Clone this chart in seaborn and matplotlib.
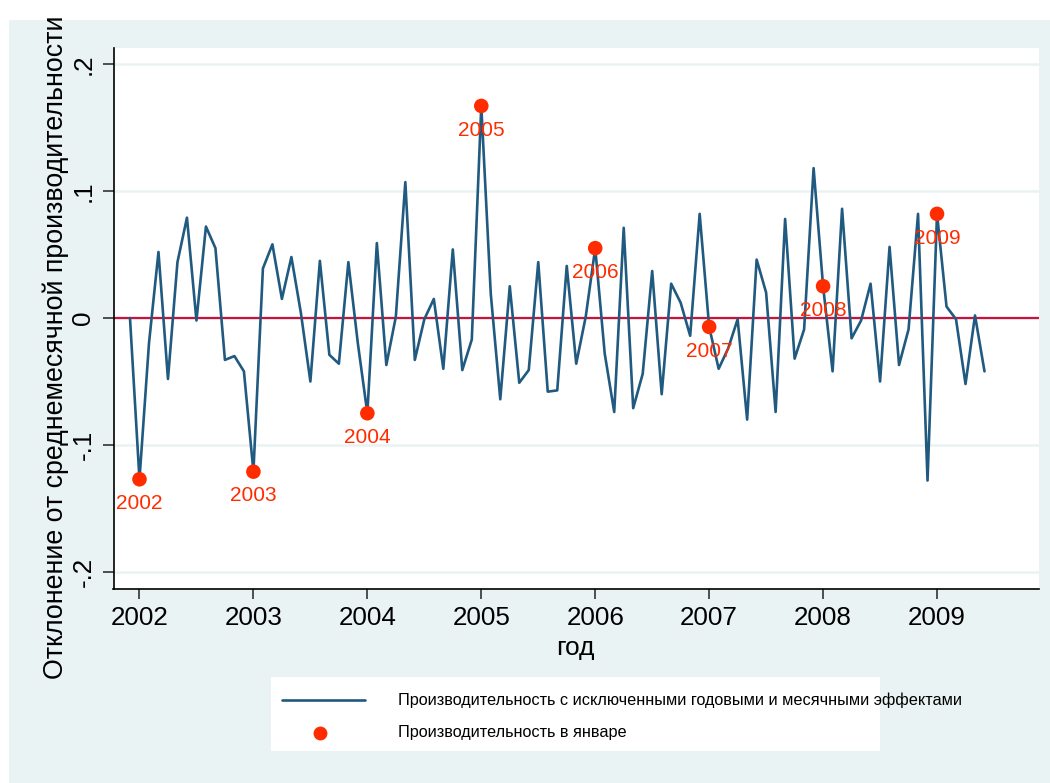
import numpy as np
import pandas as pd
import matplotlib
matplotlib.use("Agg")
import matplotlib.pyplot as plt
import seaborn as sns
from matplotlib.patches import Rectangle
from matplotlib.lines import Line2D

# monthly series, Dec 2001 .. Jun 2009
start_year = 2001
start_month = 12
values = [
    0.000,
    -0.127, -0.020, 0.052, -0.048, 0.044, 0.079, -0.002, 0.072, 0.055, -0.033, -0.030, -0.042,
    -0.121, 0.039, 0.058, 0.015, 0.048, 0.004, -0.050, 0.045, -0.029, -0.036, 0.044, -0.020,
    -0.075, 0.059, -0.037, 0.001, 0.107, -0.033, -0.001, 0.015, -0.040, 0.054, -0.041, -0.017,
    0.167, 0.019, -0.064, 0.025, -0.051, -0.041, 0.044, -0.058, -0.057, 0.041, -0.036, 0.001,
    0.055, -0.028, -0.074, 0.071, -0.071, -0.044, 0.037, -0.060, 0.027, 0.012, -0.014, 0.082,
    -0.007, -0.040, -0.024, -0.001, -0.080, 0.046, 0.020, -0.074, 0.078, -0.032, -0.009, 0.118,
    0.025, -0.042, 0.086, -0.016, -0.002, 0.027, -0.050, 0.056, -0.037, -0.009, 0.082, -0.128,
    0.082, 0.009, -0.001, -0.052, 0.002, -0.042,
]
year_ticks = [2002, 2003, 2004, 2005, 2006, 2007, 2008, 2009]
y_ticks = [-0.2, -0.1, 0, 0.1, 0.2]
y_tick_labels = ['-.2', '-.1', '0', '.1', '.2']

line_label = 'Производительность с исключенными годовыми и месячными эффектами'
dot_label = 'Производительность в январе'
xlabel = 'год'
ylabel = 'Отклонение от среднемесячной производительности'

idx = np.arange(len(values))
months = (start_month - 1 + idx) % 12 + 1
years = start_year + (start_month - 1 + idx) // 12
df = pd.DataFrame({'year': years, 'month': months, 'value': values})
df['t'] = df['year'] + (df['month'] - 1) / 12
jan = df[df['month'] == 1]

LINE_C = '#215a80'
DOT_C = '#ff2c00'
ZERO_C = '#c8143c'
BG = '#eaf3f3'

sns.set_theme(style='white')
plt.rcParams['font.family'] = ['Liberation Sans', 'DejaVu Sans']
plt.rcParams['text.color'] = 'black'
plt.rcParams['xtick.labelcolor'] = 'black'
plt.rcParams['ytick.labelcolor'] = 'black'

W, H = 1050, 783
fig = plt.figure(figsize=(W / 100, H / 100), dpi=100)
fig.patch.set_facecolor('white')
fig.patches.append(Rectangle((9 / W, 0), 1 - 9 / W, 1 - 20 / H, transform=fig.transFigure,
                             facecolor=BG, edgecolor='none', zorder=-10))

ax = fig.add_axes([113.5 / W, 1 - 589 / H, (1039 - 113.5) / W, (589 - 47.5) / H])
ax.set_facecolor('white')

ax.axhline(0, color=ZERO_C, lw=1.6, zorder=2)
sns.lineplot(data=df, x='t', y='value', ax=ax, color=LINE_C, lw=1.9, zorder=3)
sns.scatterplot(data=jan, x='t', y='value', ax=ax, color=DOT_C, s=110, edgecolor='none',
                zorder=4, legend=False)
for _, r in jan.iterrows():
    ax.annotate(str(int(r['year'])), (r['t'], r['value']), xytext=(0, -17.5),
                textcoords='offset points', ha='center', va='center',
                color=DOT_C, fontsize=15)

ax.set_xlim(2001.772, 2009.895)
ax.set_ylim(-0.2134, 0.213)
ax.set_xticks(year_ticks)
ax.set_xticklabels([str(y) for y in year_ticks], fontsize=18.7)
ax.set_yticks(y_ticks)
ax.set_yticklabels(y_tick_labels, fontsize=18.7, rotation=90, va='center')
ax.set_xlabel('')
ax.set_ylabel('')
ax.yaxis.grid(True, color=BG, lw=1.8)
ax.xaxis.grid(False)
ax.tick_params(axis='x', length=7, width=1.2, color='#333333', pad=5, bottom=True)
ax.tick_params(axis='y', length=8, width=1.2, color='#333333', pad=5, left=True)
for s in ['top', 'right']:
    ax.spines[s].set_visible(False)
for s in ['left', 'bottom']:
    ax.spines[s].set_color('black')
    ax.spines[s].set_linewidth(1.2)

fig.text(575 / W, 1 - 648 / H, xlabel, ha='center', va='center', fontsize=19)
fig.text(56 / W, 1 - 347 / H, ylabel, ha='center', va='center', rotation=90, fontsize=19.3)

# legend box (text runs past the white box, as in the original)
fig.patches.append(Rectangle((271 / W, 1 - 751 / H), (880 - 271) / W, (751 - 677) / H,
                             transform=fig.transFigure, facecolor='white', edgecolor='none'))
fig.lines.append(Line2D([282 / W, 365 / W], [1 - 700 / H] * 2, transform=fig.transFigure,
                        color=LINE_C, lw=1.9))
fig.lines.append(Line2D([320 / W], [1 - 733 / H], transform=fig.transFigure, marker='o',
                        markersize=10, color=DOT_C, markeredgecolor='none', lw=0))
fig.text(398 / W, 1 - 700 / H, line_label, ha='left', va='center', fontsize=11.7)
fig.text(398 / W, 1 - 733 / H, dot_label, ha='left', va='center', fontsize=11.7)

fig.savefig('out.png', dpi=100, facecolor=fig.get_facecolor())
